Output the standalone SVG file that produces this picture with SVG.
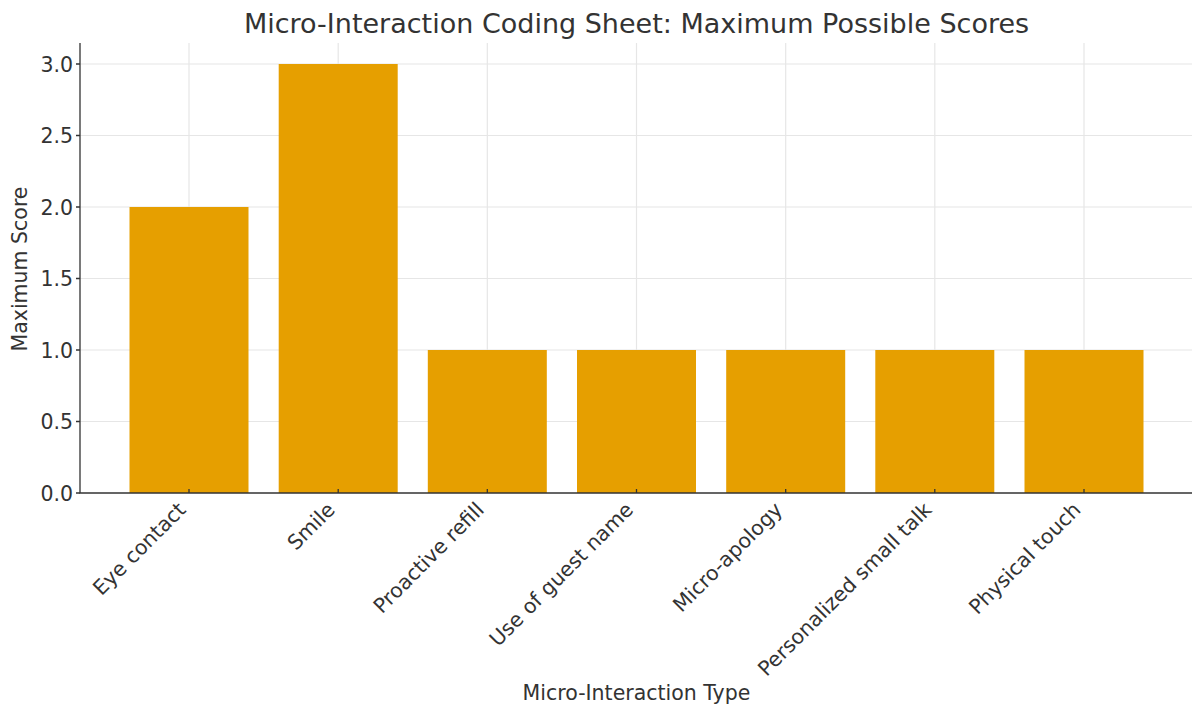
<svg xmlns="http://www.w3.org/2000/svg" width="1192" height="708" viewBox="0 0 1192 708">
<style>
text{font-family:"DejaVu Sans",Verdana,sans-serif;fill:#333}
.ylab{font-size:20.5px;text-anchor:end}
.xlab{font-size:20.5px;text-anchor:end}
.grid{stroke:#e6e6e6;stroke-width:1.2}
.bar{fill:#e69f00}
.spine{stroke:#333;stroke-width:1.3;fill:none}
</style>
<rect width="1192" height="708" fill="#fff"/>
<text x="636.5" y="33" style="font-size:27px" text-anchor="middle">Micro-Interaction Coding Sheet: Maximum Possible Scores</text>
<g id="grid">
<path class="grid" d="M80 421.5H1192M80 350H1192M80 278.5H1192M80 207H1192M80 135.5H1192M80 64H1192"/>
<path class="grid" d="M189 43V493M338.2 43V493M487.3 43V493M636.5 43V493M785.7 43V493M934.8 43V493M1084 43V493"/>
</g>
<g id="bars">
<rect id="bar-eye" class="bar" x="129.5" y="207" width="119" height="286"/>
<rect id="bar-smile" class="bar" x="278.7" y="64" width="119" height="429"/>
<rect id="bar-refill" class="bar" x="427.8" y="350" width="119" height="143"/>
<rect id="bar-name" class="bar" x="577" y="350" width="119" height="143"/>
<rect id="bar-apology" class="bar" x="726.2" y="350" width="119" height="143"/>
<rect id="bar-smalltalk" class="bar" x="875.3" y="350" width="119" height="143"/>
<rect id="bar-touch" class="bar" x="1024.5" y="350" width="119" height="143"/>
</g>
<g id="axes">
<path class="spine" d="M80 43V493H1192"/>
<path class="spine" d="M76 493H80M76 421.5H80M76 350H80M76 278.5H80M76 207H80M76 135.5H80M76 64H80"/>
<path class="spine" d="M189 493V489M338.2 493V489M487.3 493V489M636.5 493V489M785.7 493V489M934.8 493V489M1084 493V489"/>
</g>
<g id="yticks">
<text class="ylab" x="73" y="500.5">0.0</text>
<text class="ylab" x="73" y="429">0.5</text>
<text class="ylab" x="73" y="357.5">1.0</text>
<text class="ylab" x="73" y="286">1.5</text>
<text class="ylab" x="73" y="214.5">2.0</text>
<text class="ylab" x="73" y="143">2.5</text>
<text class="ylab" x="73" y="71.5">3.0</text>
</g>
<g id="xticks">
<text class="xlab" transform="translate(187,511) rotate(-45)">Eye contact</text>
<text class="xlab" transform="translate(336.2,511) rotate(-45)">Smile</text>
<text class="xlab" transform="translate(485.3,511) rotate(-45)">Proactive refill</text>
<text class="xlab" transform="translate(634.5,511) rotate(-45)">Use of guest name</text>
<text class="xlab" transform="translate(783.7,511) rotate(-45)">Micro-apology</text>
<text class="xlab" transform="translate(932.8,511) rotate(-45)">Personalized small talk</text>
<text class="xlab" transform="translate(1082,511) rotate(-45)">Physical touch</text>
</g>
<text x="636.5" y="700" style="font-size:20.5px" text-anchor="middle">Micro-Interaction Type</text>
<text transform="translate(27,269) rotate(-90)" style="font-size:20.5px" text-anchor="middle">Maximum Score</text>
</svg>
